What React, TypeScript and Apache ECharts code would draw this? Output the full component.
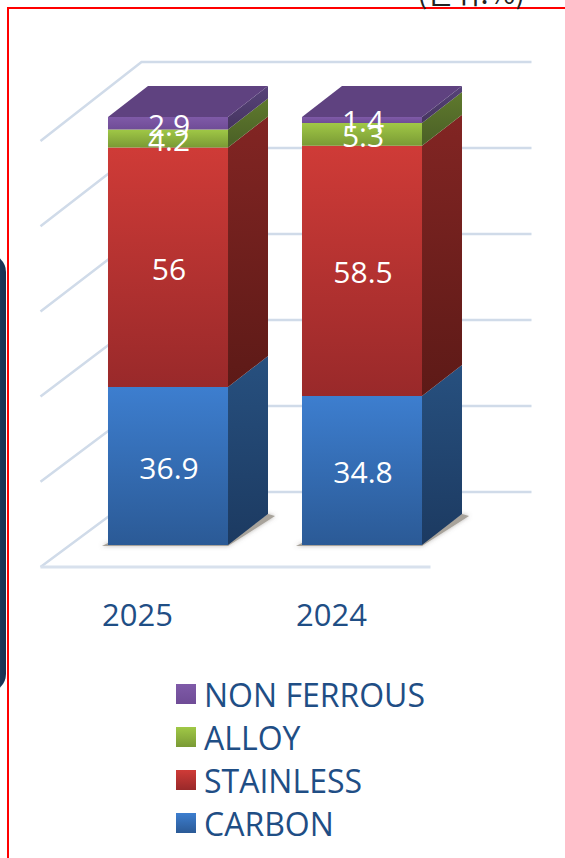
import React, { useEffect, useRef } from "react";
import * as echarts from "echarts";

const categories = ["2025", "2024"];
const carbon = [36.9, 34.8];
const stainless = [56, 58.5];
const alloy = [4.2, 5.3];
const nonFerrous = [2.9, 1.4];
const gridValues = [0, 20, 40, 60, 80, 100];
const unitText = "(단위:%)";

const FONT = '"Open Sans", "Noto Sans", sans-serif';
const TEXT_BLUE = "#1f4e85";
const GRID_COLOR = "#d0dbe9";
const BAR_RATIO = 0.6186;
const BAR_DX = 40;
const BAR_DY = -31;
const WALL_DX = 101;

const lg = (a: string, b: string) =>
  new echarts.graphic.LinearGradient(0, 0, 0, 1, [
    { offset: 0, color: a },
    { offset: 1, color: b },
  ]);

const seriesDefs = [
  { name: "CARBON", values: carbon, front: ["#3d7ecf", "#2b5a96"], side: ["#27507f", "#1c3a61"] },
  { name: "STAINLESS", values: stainless, front: ["#cf3b37", "#99292a"], side: ["#822523", "#5d1a17"] },
  { name: "ALLOY", values: alloy, front: ["#a0c846", "#7a9a35"], side: ["#5f7a2d", "#4a5f26"] },
  { name: "NON FERROUS", values: nonFerrous, front: ["#7f5aa8", "#6f4c96"], side: ["#57437a", "#45345f"] },
];

function buildBarSeries() {
  const runningTotal = categories.map(() => 0);
  return seriesDefs.map((def, si) => {
    const data = def.values.map((v, i) => {
      const start = runningTotal[i];
      runningTotal[i] += v;
      return [i, start, runningTotal[i], v];
    });
    const isTop = si === seriesDefs.length - 1;
    return {
      type: "custom",
      name: def.name,
      xAxisIndex: 1,
      yAxisIndex: 1,
      z: 5 + si,
      itemStyle: { color: lg(def.front[0], def.front[1]) },
      encode: { x: 0, y: [1, 2] },
      data,
      renderItem: (_p: any, api: any) => {
        const cat = api.value(0);
        const low = api.coord([cat, api.value(1)]);
        const high = api.coord([cat, api.value(2)]);
        const w = api.size([1, 0])[0] * BAR_RATIO;
        const l = low[0] - w / 2;
        const r = low[0] + w / 2;
        const children: any[] = [];
        if (si === 0) {
          children.push({
            type: "polygon",
            shape: {
              points: [
                [l - 6, low[1] + 1],
                [r, low[1] + 1],
                [r + 47, low[1] - 29],
                [r + BAR_DX, low[1] + BAR_DY],
                [r, low[1] - 2],
                [l, low[1] - 2],
              ],
            },
            style: { fill: "#a8a39b", shadowBlur: 4, shadowColor: "rgba(110,105,100,0.5)" },
          });
        }
        children.push({
          type: "polygon",
          shape: {
            points: [
              [r, high[1]],
              [r + BAR_DX, high[1] + BAR_DY],
              [r + BAR_DX, low[1] + BAR_DY],
              [r, low[1]],
            ],
          },
          style: { fill: lg(def.side[0], def.side[1]) },
        });
        children.push({
          type: "rect",
          shape: { x: l, y: high[1], width: w, height: low[1] - high[1] },
          style: { fill: lg(def.front[0], def.front[1]) },
        });
        if (isTop) {
          children.push({
            type: "polygon",
            shape: {
              points: [
                [l, high[1]],
                [l + BAR_DX, high[1] + BAR_DY],
                [r + BAR_DX, high[1] + BAR_DY],
                [r, high[1]],
              ],
            },
            style: { fill: "#5f4280" },
          });
        }
        children.push({
          type: "text",
          z2: 50,
          style: {
            text: String(api.value(3)),
            x: low[0] + 1,
            y: (low[1] + high[1]) / 2 + 1,
            fill: "#ffffff",
            font: `30px ${FONT}`,
            align: "center",
            verticalAlign: "middle",
          },
        });
        return { type: "group", children };
      },
    };
  });
}

const wallSeries = {
  type: "custom",
  name: "wall",
  xAxisIndex: 0,
  yAxisIndex: 0,
  z: 1,
  silent: true,
  data: gridValues.map((v) => [0, v]),
  encode: { x: 0, y: 1 },
  renderItem: (p: any, api: any) => {
    const v = api.value(1);
    const y = api.coord([0, v])[1];
    const x0 = p.coordSys.x;
    const x1 = x0 + p.coordSys.width + 2;
    const backY = y - 75 - v * 0.04;
    const children: any[] = [
      {
        type: "polyline",
        shape: {
          points: [
            [x0, y],
            [x0 + WALL_DX, backY],
            [x1 + WALL_DX, backY],
          ],
        },
        style: { stroke: GRID_COLOR, lineWidth: 2.5, fill: null },
      },
    ];
    if (v === 0) {
      children.push({
        type: "line",
        shape: { x1: x0, y1: y, x2: x1, y2: y },
        style: { stroke: "#d8e1ed", lineWidth: 3 },
      });
    }
    return { type: "group", children };
  },
};

export default function App() {
  const ref = useRef<HTMLDivElement>(null);
  useEffect(() => {
    const chart = echarts.init(ref.current!, undefined, { renderer: "svg" });
    chart.setOption({
      animation: false,
      backgroundColor: "#ffffff",
      grid: [
        { left: 40.5, width: 388, top: 141, height: 426 },
        { left: 71, width: 388, top: 117, height: 428 },
      ],
      xAxis: [
        {
          type: "category",
          gridIndex: 0,
          data: categories,
          axisLine: { show: false },
          axisTick: { show: false },
          axisLabel: { color: TEXT_BLUE, fontSize: 31, fontFamily: FONT, margin: 31 },
        },
        { type: "category", gridIndex: 1, data: categories, show: false },
      ],
      yAxis: [
        { type: "value", gridIndex: 0, min: 0, max: 100, interval: 20, show: false },
        { type: "value", gridIndex: 1, min: 0, max: 100, interval: 20, show: false },
      ],
      legend: {
        orient: "vertical",
        left: 176,
        top: 673,
        padding: 0,
        itemWidth: 20,
        itemHeight: 20,
        itemGap: 1,
        icon: "rect",
        data: ["NON FERROUS", "ALLOY", "STAINLESS", "CARBON"],
        textStyle: { color: TEXT_BLUE, fontSize: 32, fontFamily: FONT, lineHeight: 42, padding: [0, 0, 0, 3] },
      },
      graphic: [
        {
          type: "rect",
          silent: true,
          shape: { x: 8, y: 8, width: 900, height: 1200 },
          style: { fill: "transparent", stroke: "#ff0000", lineWidth: 2 },
        },
        {
          type: "rect",
          silent: true,
          shape: { x: -30, y: 254, width: 36, height: 438, r: 20 },
          style: {
            fill: new echarts.graphic.LinearGradient(0, 0, 1, 0, [
              { offset: 0, color: "#2f5a8c" },
              { offset: 1, color: "#17304f" },
            ]),
          },
        },
        {
          type: "text",
          silent: true,
          style: {
            text: unitText,
            x: 525,
            y: 5,
            fill: "#222222",
            font: '29px "Noto Sans CJK KR", sans-serif',
            align: "right",
            verticalAlign: "bottom",
          },
        },
      ],
      series: [wallSeries, ...buildBarSeries()],
    });
    return () => chart.dispose();
  }, []);
  return (
    <div
      ref={ref}
      style={{ position: "absolute", left: 0, top: 0, width: 565, height: 858, overflow: "hidden" }}
    />
  );
}
